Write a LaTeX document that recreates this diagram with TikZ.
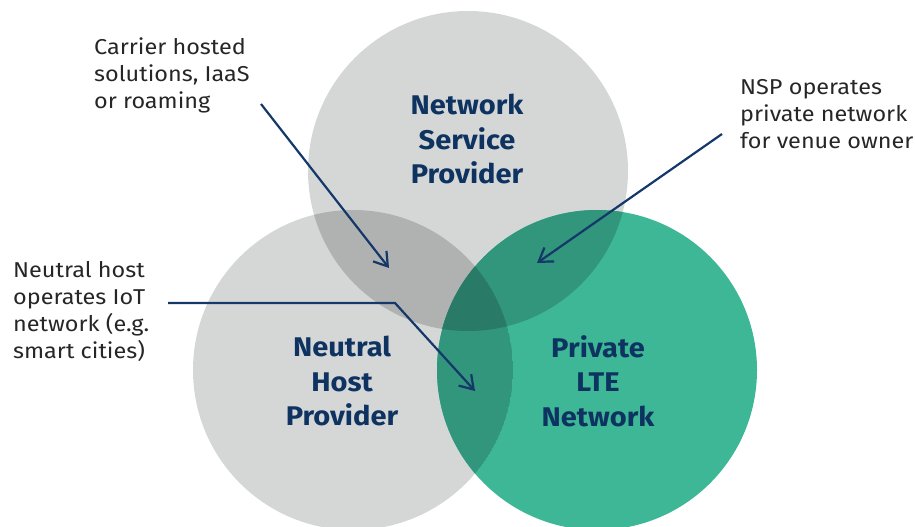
\documentclass[tikz,border=0pt]{standalone}
\usepackage{fontspec}
\setmainfont{Fira Sans}
\newfontfamily\smallf[FakeStretch=1.09]{Fira Sans}
\newfontfamily\bigf[FakeStretch=1.075]{Fira Sans}
\usetikzlibrary{arrows.meta}
\definecolor{cgrey}{HTML}{D5D7D7}
\definecolor{cgreen}{HTML}{3DB796}
\definecolor{cgg}{HTML}{B0B1B1}
\definecolor{cgrgr}{HTML}{31967B}
\definecolor{ctri}{HTML}{297A66}
\definecolor{cnavy}{HTML}{0F3361}
\definecolor{carrow}{HTML}{14386A}
\tikzset{
  bigtxt/.style={font=\bigf\bfseries\fontsize{27}{34.5}\selectfont, text=cnavy, align=center, inner sep=0pt},
  smalltxt/.style={font=\smallf\fontsize{21.5}{27}\selectfont, text=black!85, align=left, inner sep=0pt, anchor=west},
  pointer/.style={draw=carrow, line width=2.2pt, -{Straight Barb[length=13pt,width=17pt,line width=2.2pt]}},
  venn/.style={circle, minimum size=320pt, inner sep=0pt},
}
\begin{document}
\begin{tikzpicture}[x=1pt,y=-1pt]
\useasboundingbox (0,0) rectangle (915,527);
\clip (0,0) rectangle (915,527);
% circles
\node[venn, fill=cgrey] (nspc) at (468,171) {};
\node[venn, fill=cgrey] (nhc) at (353,370) {};
\node[venn, fill=cgreen] (ltec) at (597,370) {};
% overlaps
\begin{scope}
  \clip (468,171) circle (160);
  \fill[cgg] (353,370) circle (160);
  \fill[cgrgr] (597,370) circle (160);
  \clip (353,370) circle (160);
  \fill[ctri] (597,370) circle (160);
\end{scope}
\begin{scope}
  \clip (353,370) circle (160);
  \clip (597,370) circle (160);
  \fill[cgrgr] (353,370) circle (160);
  \begin{scope}
    \clip (468,171) circle (160);
    \fill[ctri] (353,370) circle (160);
  \end{scope}
\end{scope}
% big labels
\node[bigtxt] (nsp) at (467,139) {Network\\Service\\Provider};
\node[bigtxt] (nh) at (342,381) {Neutral\\Host\\Provider};
\node[bigtxt] (lte) at (598,381) {Private\\LTE\\Network};
% small labels
\node[smalltxt] (t1) at (94,75) {Carrier hosted\\solutions, IaaS\\or roaming};
\node[smalltxt] (t2) at (740,114) {NSP operates\\private network\\for venue owner};
\node[smalltxt] (t3) at (13,311) {Neutral host\\operates IoT\\network (e.g.\\smart cities)};
% pointer coordinates
\coordinate (a1s) at (261,104);
\coordinate (a1e) at (389,268);
\coordinate (a2s) at (722,134);
\coordinate (a2e) at (537,263);
\coordinate (a3s) at (168,303);
\coordinate (a3b) at (395,303);
\coordinate (a3e) at (475,391);
\draw[pointer] (a1s) -- (a1e);
\draw[pointer] (a2s) -- (a2e);
\draw[pointer] (a3s) -- (a3b) -- (a3e);
\end{tikzpicture}
\end{document}
